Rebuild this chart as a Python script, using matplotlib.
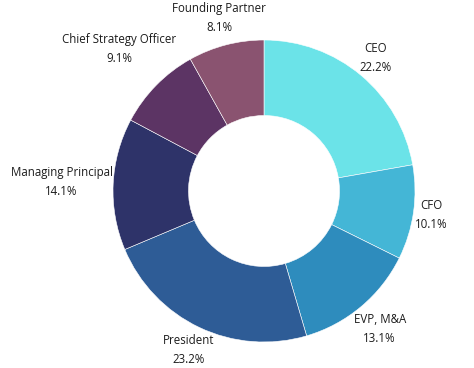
import matplotlib
matplotlib.use("Agg")
import matplotlib.pyplot as plt
import numpy as np

roles = ["CEO", "CFO", "EVP, M&A", "President", "Managing Principal",
         "Chief Strategy Officer", "Founding Partner"]
shares = [22.2, 10.1, 13.1, 23.2, 14.1, 9.1, 8.1]
colors = ["#6be3e8", "#44b6d6", "#2e8cbd", "#2e5c96", "#2e3369",
          "#5c3464", "#8a5370"]

plt.rcParams['font.family'] = ['Open Sans', 'DejaVu Sans']

fig = plt.figure(figsize=(4.74, 3.68), dpi=100)
ax = fig.add_axes([0, 0, 1, 1])

wedges, _ = ax.pie(shares, colors=colors, startangle=90,
                   counterclock=False, radius=1.0,
                   wedgeprops=dict(width=0.5, edgecolor="white", linewidth=0.4))

R = 151.0
cx, cy = 264.0, 368 - 191.0
ax.set_aspect("auto")
ax.set_xlim(-cx / R, (474 - cx) / R)
ax.set_ylim(-cy / R, (368 - cy) / R)
ax.axis("off")

texts = []
for w, r, s in zip(wedges, roles, shares):
    th = np.deg2rad((w.theta1 + w.theta2) / 2)
    t = ax.text(0, 0, f"{r}\n{s:.1f}%",
                ha="center", va="center", fontsize=8.3, color="#1c1c1c",
                linespacing=1.6)
    texts.append((t, th))

fig.canvas.draw()
renderer = fig.canvas.get_renderer()
r0 = 1.0
for t, th in texts:
    bb = t.get_window_extent(renderer)
    c, s = np.cos(th), np.sin(th)
    d = r0 + (abs(c) * bb.width / 2 + abs(s) * bb.height / 2) / R
    t.set_position((d * c, d * s))

fig.savefig("out.png", dpi=100)
